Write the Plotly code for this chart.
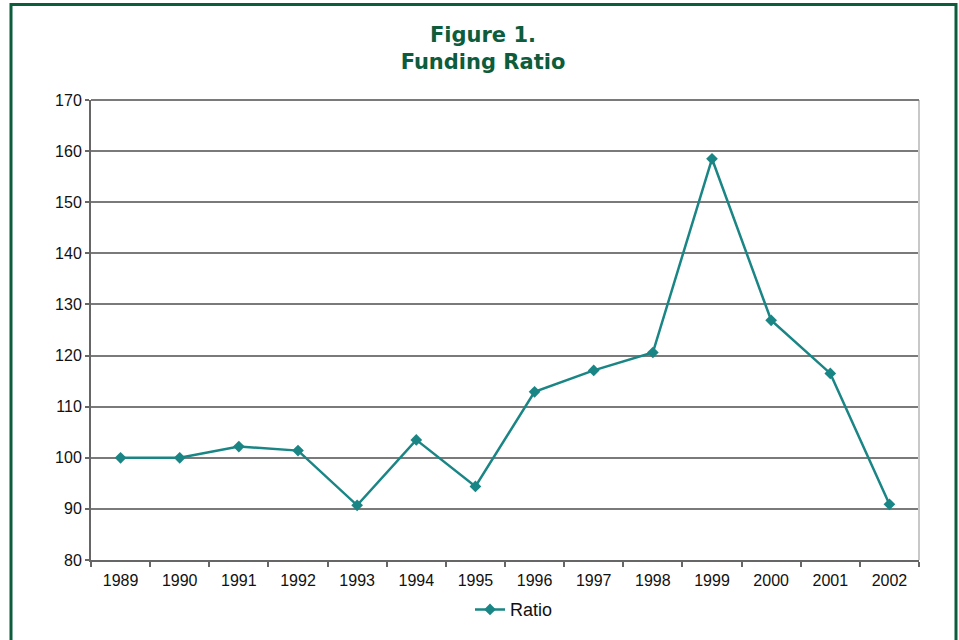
import plotly.graph_objects as go

years = ["1989", "1990", "1991", "1992", "1993", "1994", "1995",
         "1996", "1997", "1998", "1999", "2000", "2001", "2002"]
ratio = [100.0, 100.0, 102.2, 101.4, 90.7, 103.5, 94.4,
         112.9, 117.1, 120.6, 158.5, 126.9, 116.5, 90.9]
y_ticks = [80, 90, 100, 110, 120, 130, 140, 150, 160, 170]

W, H = 959, 640
L, R, T, B = 91, 40, 100, 77
pw, ph = W - L - R, H - T - B

def px(x):
    return (x - L) / pw

def py(y):
    return 1 - (y - T) / ph

teal = "#1a8585"
green = "#0d5c3c"

fig = go.Figure()
fig.add_trace(go.Scatter(
    x=years, y=ratio, name="Ratio", mode="lines+markers",
    line=dict(color=teal, width=2.5),
    marker=dict(symbol="diamond", size=9, color=teal),
))

fig.update_layout(
    width=W, height=H,
    margin=dict(l=L, r=R, t=T, b=B),
    paper_bgcolor="white", plot_bgcolor="white",
    font=dict(family="Liberation Sans, Arial, sans-serif", size=16, color="#111"),
    title=dict(
        text="<b>Figure 1.<br>Funding Ratio</b>",
        x=483 / W, xanchor="center", y=1 - 42 / H, yanchor="top",
        font=dict(family="DejaVu Sans, Verdana, sans-serif", size=21, color=green),
    ),
    showlegend=True,
    legend=dict(orientation="h", x=px(514), xanchor="center", y=py(613), yanchor="middle",
                font=dict(size=18), bgcolor="rgba(0,0,0,0)"),
    xaxis=dict(
        type="category", range=[-0.5, len(years) - 0.5],
        tickson="boundaries", ticks="outside", ticklen=5,
        tickcolor="#666", tickwidth=2, showgrid=False,
        showline=True, linecolor="#666", linewidth=2,
        tickfont=dict(size=16), ticklabelstandoff=5,
    ),
    yaxis=dict(
        range=[80, 170], tickvals=y_ticks, ticks="outside", ticklen=4,
        tickcolor="#666", tickwidth=2, showgrid=True, gridcolor="#7a7a7a", gridwidth=2,
        showline=True, linecolor="#666", linewidth=2, zeroline=False,
        tickfont=dict(size=16),
    ),
    shapes=[
        dict(type="line", xref="paper", yref="paper", x0=1, x1=1, y0=0, y1=1,
             line=dict(color="#c8c8c8", width=2)),
        dict(type="line", xref="paper", yref="paper", x0=0, x1=1, y0=1, y1=1,
             line=dict(color="#7a7a7a", width=2)),
        dict(type="rect", xref="paper", yref="paper",
             x0=px(11), x1=px(956), y0=py(700), y1=py(4),
             line=dict(color=green, width=3), fillcolor="rgba(0,0,0,0)", layer="below"),
    ],
)

fig.write_html("out.html")
